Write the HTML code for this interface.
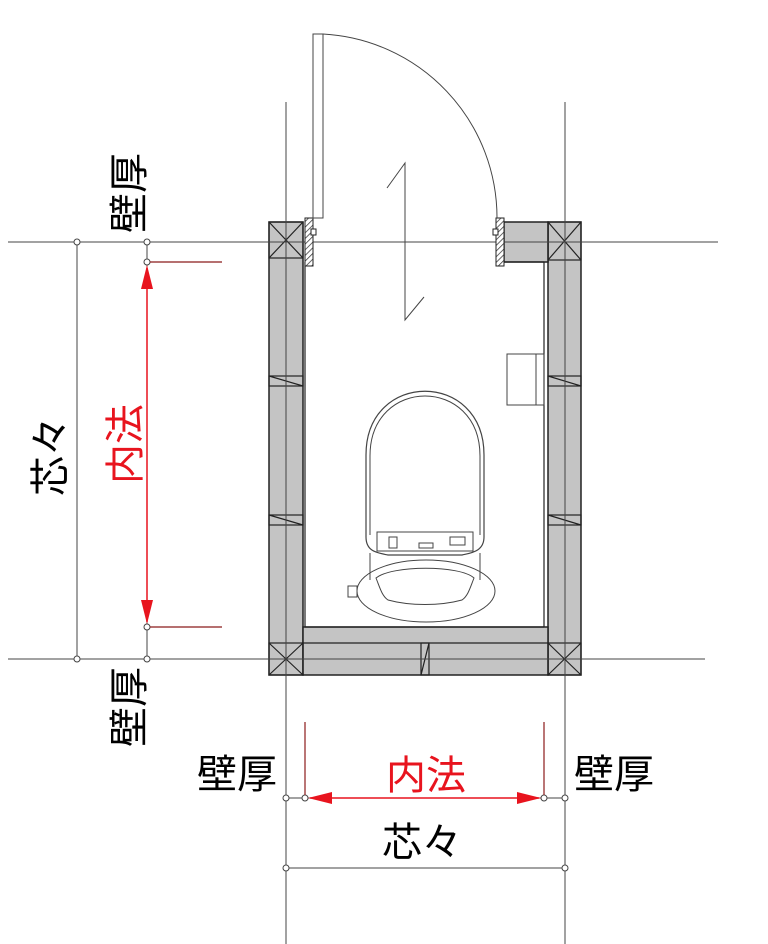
<!DOCTYPE html>
<html><head><meta charset="utf-8"><style>
html,body{margin:0;padding:0;background:#fff;}
svg{display:block;}
text{font-family:"Liberation Sans","Noto Sans CJK JP",sans-serif;font-size:40px;}
</style></head><body>
<svg width="768" height="944" viewBox="0 0 768 944" xmlns="http://www.w3.org/2000/svg">
<defs>
<pattern id="h" width="4" height="4" patternUnits="userSpaceOnUse" patternTransform="rotate(45)">
<rect width="4" height="4" fill="#fff"/><line x1="0" y1="0" x2="0" y2="4" stroke="#333" stroke-width="1.5"/></pattern>
</defs>
<!-- walls -->
<g fill="#c4c4c4" stroke="#222" stroke-width="1.5">
<rect x="269" y="222" width="34" height="453"/>
<rect x="548" y="222" width="33" height="453"/>
<rect x="303" y="627" width="245" height="48"/>
<path d="M504 222 H548 V262 H504 Z"/>
</g>
<g stroke="#222" stroke-width="1.2" fill="none">
<line x1="303" y1="643" x2="548" y2="643"/>
<line x1="305" y1="262" x2="305" y2="627"/>
<line x1="305" y1="627" x2="544" y2="627"/>
<line x1="544" y1="262" x2="544" y2="627"/>
<line x1="504" y1="262" x2="544" y2="262"/>
<rect x="269" y="222" width="34" height="36"/><path d="M269 222 L303 258 M303 222 L269 258"/>
<rect x="548" y="222" width="33" height="38"/><path d="M548 222 L581 260 M581 222 L548 260"/>
<rect x="269" y="643" width="34" height="32"/><path d="M269 643 L303 675 M303 643 L269 675"/>
<rect x="548" y="643" width="33" height="32"/><path d="M548 643 L581 675 M581 643 L548 675"/>
<rect x="269" y="376" width="34" height="10"/><path d="M269 376 L303 386"/>
<rect x="269" y="515" width="34" height="10"/><path d="M269 515 L303 525"/>
<rect x="548" y="376" width="33" height="10"/><path d="M548 376 L581 386"/>
<rect x="548" y="515" width="33" height="10"/><path d="M548 515 L581 525"/>
<rect x="421" y="643" width="8" height="32"/><path d="M421 675 L429 643"/>
</g>
<!-- center lines on top -->
<g fill="none" stroke="#444" stroke-width="1">
<line x1="8" y1="242" x2="718" y2="242"/>
<line x1="8" y1="659" x2="705" y2="659"/>
<line x1="286" y1="102" x2="286" y2="944"/>
<line x1="565" y1="102" x2="565" y2="944"/>
</g>
<!-- door jambs -->
<rect x="305" y="218" width="8" height="48" fill="url(#h)" stroke="#222"/>
<rect x="496" y="218" width="8" height="48" fill="url(#h)" stroke="#222"/>
<rect x="311" y="229" width="5" height="6" fill="#fff" stroke="#222"/>
<rect x="493" y="229" width="5" height="6" fill="#fff" stroke="#222"/>
<g fill="none" stroke="#444" stroke-width="1">
<rect x="313" y="34" width="10" height="184"/>
<path d="M323 34 A184 184 0 0 1 497 218"/>
<path d="M387 188 L405 163 L405 320 L424 297"/>
<rect x="507" y="354" width="37" height="51"/><line x1="536" y1="354" x2="536" y2="405"/>
<path d="M366 537 L366 455 C366 370 484 370 484 455 L484 537 C484 552 470 553 462 555 L388 555 C378 553 366 552 366 537 Z" stroke-width="1.2"/>
<path d="M370 535 L370 456 C370 376 480 376 480 456 L480 535" />
<rect x="377" y="532" width="96" height="19"/>
<rect x="389" y="537" width="8" height="11"/><rect x="419" y="543" width="14" height="5"/><rect x="450" y="537" width="15" height="8"/>
<line x1="370" y1="553" x2="370" y2="580"/><line x1="480" y1="553" x2="480" y2="580"/>
<ellipse cx="426" cy="591" rx="69" ry="31"/>
<path d="M376 578 C392 565 460 565 474 578 C470 588 468 596 462 600 C440 606 410 606 388 600 C382 596 380 588 376 578 Z"/>
<rect x="348" y="586" width="9" height="11"/>
</g>
<g fill="none" stroke="#444" stroke-width="1">
<line x1="77" y1="242" x2="77" y2="659"/>
<line x1="147" y1="242" x2="147" y2="659"/>
<line x1="286" y1="798" x2="565" y2="798"/>
<line x1="286" y1="868" x2="565" y2="868"/>
<g fill="#fff">
<circle cx="77" cy="242" r="3"/><circle cx="147" cy="242" r="3"/><circle cx="147" cy="262" r="3"/>
<circle cx="147" cy="627" r="3"/><circle cx="77" cy="659" r="3"/><circle cx="147" cy="659" r="3"/>
<circle cx="286" cy="798" r="3"/><circle cx="305" cy="798" r="3"/><circle cx="544" cy="798" r="3"/><circle cx="565" cy="798" r="3"/>
<circle cx="286" cy="868" r="3"/><circle cx="565" cy="868" r="3"/>
</g>
</g>
<g stroke="#8b1a1a" stroke-width="1.2">
<line x1="150" y1="262" x2="222" y2="262"/><line x1="150" y1="627" x2="222" y2="627"/>
<line x1="305" y1="722" x2="305" y2="795"/><line x1="544" y1="722" x2="544" y2="795"/>
</g>
<g stroke="#e8141e" stroke-width="1.5" fill="#e8141e">
<line x1="147" y1="268" x2="147" y2="622"/>
<path d="M147 265 L141 289 L153 289 Z" stroke="none"/>
<path d="M147 624 L141 600 L153 600 Z" stroke="none"/>
<line x1="310" y1="798" x2="539" y2="798"/>
<path d="M308 798 L332 792 L332 804 Z" stroke="none"/>
<path d="M541 798 L517 792 L517 804 Z" stroke="none"/>
</g>
<text transform="translate(130,193) rotate(-90)" text-anchor="middle" dominant-baseline="central">壁厚</text>
<text transform="translate(130,707) rotate(-90)" text-anchor="middle" dominant-baseline="central">壁厚</text>
<text transform="translate(51,456) rotate(-90)" text-anchor="middle" dominant-baseline="central">芯々</text>
<text transform="translate(126,444) rotate(-90)" text-anchor="middle" dominant-baseline="central" fill="#e8141e">内法</text>
<text x="237" y="775" text-anchor="middle" dominant-baseline="central">壁厚</text>
<text x="614" y="775" text-anchor="middle" dominant-baseline="central">壁厚</text>
<text x="426" y="776" text-anchor="middle" dominant-baseline="central" fill="#e8141e">内法</text>
<text x="422" y="843" text-anchor="middle" dominant-baseline="central">芯々</text>
</svg>
</body></html>
